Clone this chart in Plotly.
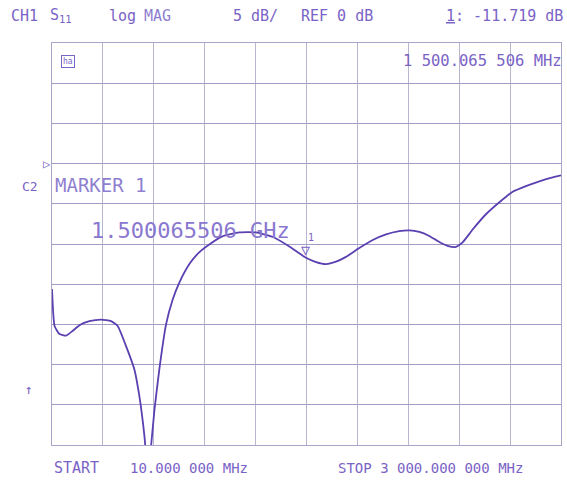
import plotly.graph_objects as go

# ---- data ----
freq_mhz = [10, 25, 54, 93, 132, 171, 230, 299, 357, 396, 445, 494, 523, 553, 572,
            592, 612, 641, 680, 719, 758, 817, 876, 934, 1010, 1110, 1208, 1304, 1404,
            1502, 1561, 1620, 1678, 1737, 1815, 1894, 1972, 2050, 2109, 2168,
            2226, 2285, 2344, 2383, 2422, 2481, 2559, 2638, 2716, 2794, 2873, 2951, 3000]
s11_db = [-15.6, -20.2, -21.2, -21.4, -20.8, -20.1, -19.6, -19.4, -19.6, -20.2, -22.7,
          -25.6, -28.9, -33.9, -38.5, -35.1, -30.6, -25.5, -20.0, -16.9, -14.8, -12.5,
          -11.0, -10.05, -9.05, -8.55, -8.55, -9.1, -10.3, -11.72, -12.25, -12.5, -12.2,
          -11.6, -10.5, -9.5, -8.8, -8.4, -8.3, -8.5, -9.0, -9.75, -10.3, -10.35, -9.8,
          -8.2, -6.3, -4.8, -3.5, -2.8, -2.2, -1.7, -1.45]
marker_freq = 1500.065506
marker_db = -11.719
start_mhz, stop_mhz = 10, 3000
ref_db, scale_db = 0, 5
top_db, bottom_db = 15, -35

# ---- layout geometry ----
W, H = 567, 485
L, R, T, B = 52, 561, 43, 445

TXT = "#7a63c6"
TRACE = "#5a40b0"
FONT = "DejaVu Sans Mono"

def px(x):
    return (x - L) / (R - L)

def py(y):
    return (B - y) / (B - T)

fig = go.Figure()
fig.add_trace(go.Scatter(x=freq_mhz, y=s11_db, mode="lines",
                         line=dict(color=TRACE, width=1.8, shape="spline", smoothing=0.45),
                         hoverinfo="skip"))

ann = []
def text(x, y, s, size=14, xa="left", ya="middle", color=TXT, **kw):
    ann.append(dict(x=px(x), y=py(y), xref="paper", yref="paper", text=s,
                    showarrow=False, xanchor=xa, yanchor=ya,
                    font=dict(family=FONT, size=size, color=color), **kw))

text(9, 16, "CH1", 15)
text(48, 16, "S<sub>11</sub>", 15)
text(107, 16, "log", 15)
text(142, 16, "MAG", 15, color="#8f7fd0")
text(231, 16, "5 dB/", 15)
text(299, 16, "REF 0 dB", 15)
text(565, 16, "<u>1</u>: -11.719 dB", 15, xa="right")
text(564, 61, "1 500.065 506 MHz", 15.5, xa="right")
text(61, 62, "ha", 8, borderpad=1, bordercolor=TXT, borderwidth=1)
text(20, 186, "C2", 13)
text(53, 185, "MARKER 1", 19, color="#8f7fd0")
text(89, 230, "1.500065506 GHz", 22, color="#8a78cf")
text(23, 389, "↑", 13)
text(52, 468, "START", 15)
text(128, 468, "10.000 000 MHz", 14)
text(336, 468, "STOP 3 000.000 000 MHz", 14)
text(53, 164, "▷", 12, xa="right")

# marker glyph
ann.append(dict(x=marker_freq, y=marker_db, xref="x", yref="y", text="▽",
                showarrow=False, xanchor="center", yanchor="bottom", yshift=-3,
                font=dict(family=FONT, size=15, color=TXT)))
ann.append(dict(x=marker_freq, y=marker_db, xref="x", yref="y", text="1",
                showarrow=False, xanchor="left", yanchor="bottom", yshift=13, xshift=0,
                font=dict(family=FONT, size=10, color=TXT)))

fig.update_layout(
    width=W, height=H,
    margin=dict(l=L, r=W - R, t=T, b=H - B),
    paper_bgcolor="white", plot_bgcolor="white",
    showlegend=False,
    annotations=ann,
)
fig.update_xaxes(range=[start_mhz, stop_mhz], tick0=start_mhz, dtick=(stop_mhz - start_mhz) / 10,
                 showticklabels=False, ticks="", showgrid=True, gridcolor="#b9b6cf",
                 gridwidth=1, zeroline=False, showline=True, linecolor="#a9a4c8",
                 linewidth=1, mirror=True, fixedrange=True)
fig.update_yaxes(range=[bottom_db, top_db], tick0=ref_db, dtick=scale_db,
                 showticklabels=False, ticks="", showgrid=True, gridcolor="#a29cc6",
                 gridwidth=1, zeroline=False, showline=True, linecolor="#a9a4c8",
                 linewidth=1, mirror=True, fixedrange=True)

fig.write_html("out.html")
